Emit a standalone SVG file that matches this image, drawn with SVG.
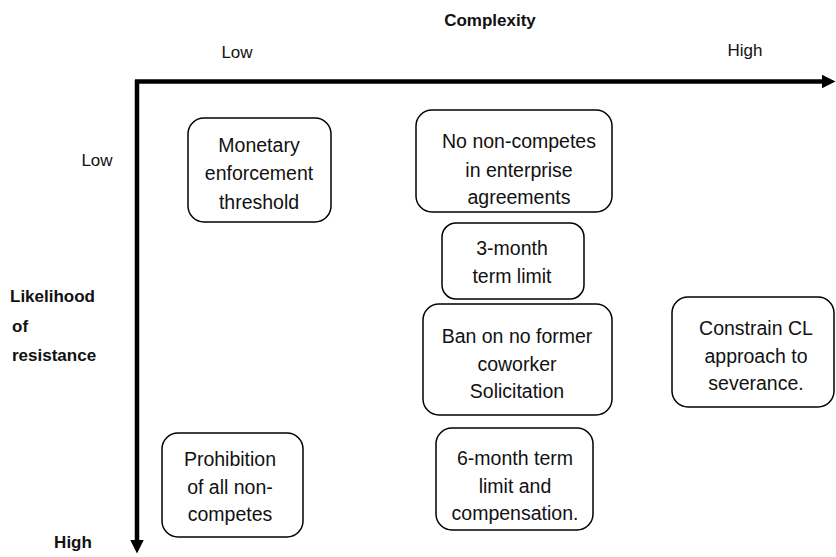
<svg xmlns="http://www.w3.org/2000/svg" width="836" height="557" viewBox="0 0 836 557">
<style>
.box{fill:#fff;stroke:#000;stroke-width:1.5}
.t{font-family:"Liberation Sans",Arial,sans-serif;font-size:19.5px;fill:#111;text-anchor:middle}
.ax{font-family:"Liberation Sans",Arial,sans-serif;font-size:17px;fill:#111}
.b{font-weight:bold}
.axis{stroke:#000;stroke-width:4.5;fill:none}
</style>
<defs>
<marker id="ah" viewBox="0 0 10 10" refX="0" refY="5" markerWidth="3" markerHeight="3" orient="auto" markerUnits="strokeWidth">
<path d="M0,0 L10,5 L0,10 Z" fill="#000"/>
</marker>
</defs>
<rect width="836" height="557" fill="#fff"/>
<g id="connectors">
<path class="axis" d="M135,81.5 H822" marker-end="url(#ah)"/>
<path class="axis" d="M137,80 V540" marker-end="url(#ah)"/>
</g>
<g id="labels">
<text class="ax b" x="490" y="26" text-anchor="middle">Complexity</text>
<text class="ax" x="237" y="58" text-anchor="middle">Low</text>
<text class="ax" x="745" y="56" text-anchor="middle">High</text>
<text class="ax" x="97" y="166" text-anchor="middle">Low</text>
<text class="ax b" x="10" y="302">Likelihood</text>
<text class="ax b" x="12" y="332">of</text>
<text class="ax b" x="12" y="361">resistance</text>
<text class="ax b" x="73" y="548" text-anchor="middle">High</text>
</g>
<g id="monetary">
<rect class="box" x="188" y="118" width="143" height="104" rx="16"/>
<text class="t" x="259" y="152">Monetary</text>
<text class="t" x="259" y="180">enforcement</text>
<text class="t" x="259" y="209">threshold</text>
</g>
<g id="enterprise">
<rect class="box" x="416" y="110" width="196" height="102" rx="16"/>
<text class="t" x="519" y="148">No non-competes</text>
<text class="t" x="519" y="177">in enterprise</text>
<text class="t" x="519" y="204">agreements</text>
</g>
<g id="threemonth">
<rect class="box" x="442" y="223" width="142" height="76" rx="14"/>
<text class="t" x="512" y="255">3-month</text>
<text class="t" x="512" y="283">term limit</text>
</g>
<g id="coworker">
<rect class="box" x="423" y="304" width="189" height="111" rx="16"/>
<text class="t" x="517" y="343">Ban on no former</text>
<text class="t" x="517" y="371">coworker</text>
<text class="t" x="517" y="398">Solicitation</text>
</g>
<g id="severance">
<rect class="box" x="672" y="297" width="162" height="110" rx="16"/>
<text class="t" x="756" y="335">Constrain CL</text>
<text class="t" x="756" y="363">approach to</text>
<text class="t" x="756" y="390">severance.</text>
</g>
<g id="prohibition">
<rect class="box" x="162" y="433" width="141" height="104" rx="16"/>
<text class="t" x="230" y="466">Prohibition</text>
<text class="t" x="230" y="494">of all non-</text>
<text class="t" x="230" y="521">competes</text>
</g>
<g id="sixmonth">
<rect class="box" x="436" y="428" width="157" height="102" rx="16"/>
<text class="t" x="515" y="465">6-month term</text>
<text class="t" x="515" y="493">limit and</text>
<text class="t" x="515" y="520">compensation.</text>
</g>
</svg>
